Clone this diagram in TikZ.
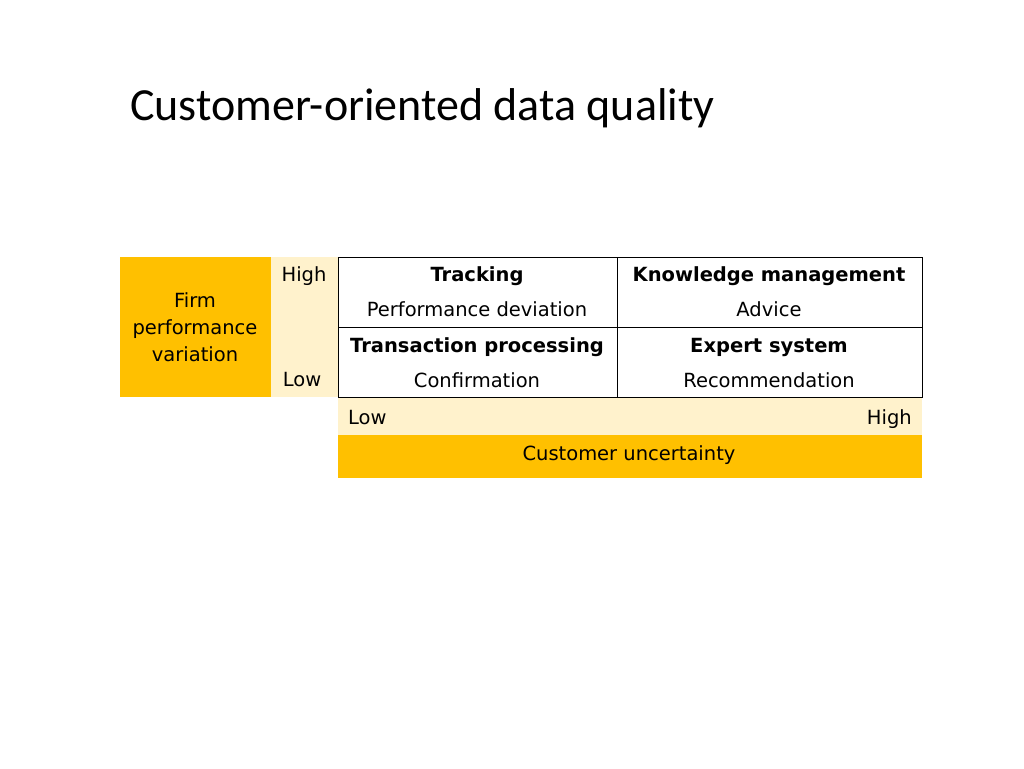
\documentclass[tikz,border=0pt]{standalone}
\usepackage{fontspec}
\setmainfont{DejaVu Sans}
\newfontfamily\titlefont{Carlito}
\definecolor{gold}{HTML}{FFC000}
\definecolor{cream}{HTML}{FFF2CC}
\tikzset{
  cell/.style={font=\fontsize{19.5}{27}\selectfont, inner sep=0pt},
  head/.style={cell, font=\fontsize{19.5}{27}\selectfont\bfseries}
}
\begin{document}
\begin{tikzpicture}[x=1pt,y=-1pt]
\useasboundingbox (0,0) rectangle (1024,768);
\node[anchor=base west,font=\fontsize{46}{52}\selectfont\titlefont,inner sep=0pt] (title) at (130,120) {Customer-oriented data quality};
% shaded bands
\fill[gold] (120,257) rectangle (271,397);
\fill[cream] (271,257) rectangle (338,397);
\fill[cream] (338,397) rectangle (922,435);
\fill[gold] (338,435) rectangle (922,478);
% table
\draw[black] (338,257) rectangle (922,397);
\draw[black] (617,257) -- (617,397);
\draw[black] (338,327) -- (922,327);
\node[cell,align=center] (firm) at (195,327) {Firm\\performance\\variation};
\node[cell] (yhigh) at (304,276) {High};
\node[cell] (ylow) at (302,380) {Low};
\node[head] (track) at (477,276) {Tracking};
\node[cell] (perf) at (477,309) {Performance deviation};
\node[head] (know) at (769,276) {Knowledge management};
\node[cell] (advice) at (769,309) {Advice};
\node[head] (trans) at (477,347) {Transaction processing};
\node[cell] (conf) at (477,380) {Confirmation};
\node[head] (expert) at (769,347) {Expert system};
\node[cell] (recom) at (769,380) {Recommendation};
\node[cell,anchor=base west] (xlow) at (348,424) {Low};
\node[cell,anchor=base east] (xhigh) at (912,424) {High};
\node[cell] (cust) at (629,455) {Customer uncertainty};
\end{tikzpicture}
\end{document}
